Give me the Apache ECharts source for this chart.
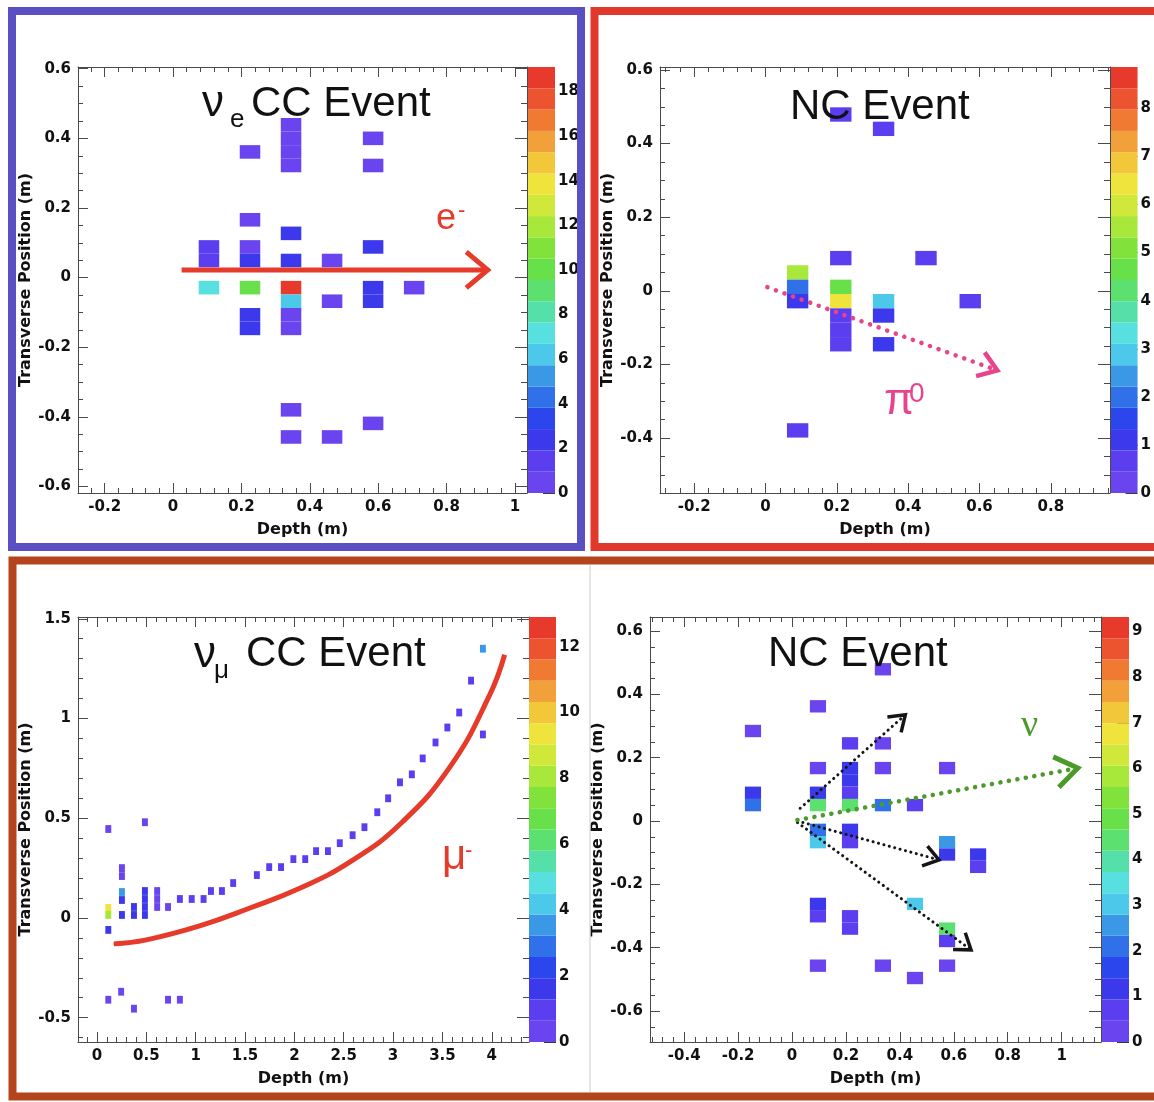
<!DOCTYPE html>
<html>
<head>
<meta charset="utf-8">
<title>Event displays</title>
<script src="https://cdn.jsdelivr.net/npm/echarts@6.0.0/dist/echarts.min.js"></script>
<style>
html,body{margin:0;padding:0;background:#ffffff;}
#chart{width:1154px;height:1102px;}
</style>
</head>
<body>
<div id="chart"></div>
<script>
// ---------- colour contours (20 levels, violet -> red) ----------
const PALETTE = ['#6a44ee','#5a3ef0','#3c38ec','#2c46ee','#3070e8','#3a98e6','#4cc8ea','#58e0e0',
                 '#54e0a8','#5ce070','#68e04a','#80e23a','#a8e83a','#d0e83a','#eee43c','#f2c83a',
                 '#f2a03a','#f07a32','#ec5430','#e83a2c'];

// ---------- panel 1 : nu_e CC event  [depth, transverse, hits] ----------
const P1_CELLS = [
  [0.105,0.049,1.6],[0.105,0.088,1.4],[0.105,-0.029,6.8],
  [0.225,0.361,0.6],[0.225,0.166,0.7],[0.225,0.088,0.9],[0.225,0.049,2.2],[0.225,-0.029,10.5],[0.225,-0.107,2.4],[0.225,-0.146,2.4],
  [0.345,0.322,0.5],[0.345,0.361,0.5],[0.345,0.400,0.5],[0.345,0.439,0.5],[0.345,0.127,2.5],[0.345,0.049,2.8],
  [0.345,-0.029,18.5],[0.345,-0.068,6.5],[0.345,-0.107,0.9],[0.345,-0.146,0.9],[0.345,-0.380,0.6],[0.345,-0.458,0.6],
  [0.465,0.049,0.8],[0.465,-0.068,0.7],[0.465,-0.458,0.6],
  [0.585,0.400,0.6],[0.585,0.322,0.6],[0.585,0.088,2.5],[0.585,-0.029,2.4],[0.585,-0.068,2.4],[0.585,-0.419,0.6],
  [0.705,-0.029,0.7]
];
const P1_X_TICKS = [-0.2, 0, 0.2, 0.4, 0.6, 0.8, 1];
const P1_Y_TICKS = [-0.6, -0.4, -0.2, 0, 0.2, 0.4, 0.6];
const P1_Z_TICKS = [0, 2, 4, 6, 8, 10, 12, 14, 16, 18];
const P1_Z_MAX = 19.1;
const P1_ARROWS = [[0.025, 0.022, 0.92, 0.022]];

// ---------- panel 2 : NC event (pi0) ----------
const P2_CELLS = [
  [0.211,0.479,0.5],[0.331,0.440,0.5],[0.211,0.089,0.6],[0.450,0.089,0.6],
  [0.090,0.050,5.6],[0.090,0.011,2.2],[0.090,-0.028,1.2],
  [0.211,0.011,4.7],[0.211,-0.028,6.4],[0.211,-0.067,0.6],[0.211,-0.106,0.5],[0.211,-0.145,0.5],
  [0.331,-0.028,2.9],[0.331,-0.067,1.2],[0.331,-0.145,1.1],
  [0.574,-0.028,0.6],[0.090,-0.379,0.6]
];
const P2_X_TICKS = [-0.2, 0, 0.2, 0.4, 0.6, 0.8];
const P2_Y_TICKS = [-0.4, -0.2, 0, 0.2, 0.4, 0.6];
const P2_Z_TICKS = [0, 1, 2, 3, 4, 5, 6, 7, 8];
const P2_Z_MAX = 8.86;
const P2_ARROWS = [[0.005, 0.01, 0.65, -0.216]];

// ---------- panel 3 : nu_mu CC event ----------
const P3_CELLS = [
  [0.115,0.446,0.5],[0.486,0.480,0.5],
  [0.115,0.050,9.4],[0.115,0.015,7.8],[0.115,-0.060,1.5],
  [0.253,0.250,0.6],[0.253,0.210,0.6],[0.253,0.130,3.8],[0.253,0.090,1.8],[0.253,0.015,1.6],
  [0.375,0.055,1.6],[0.375,0.015,1.6],
  [0.486,0.135,1.3],[0.486,0.095,1.6],[0.486,0.055,1.6],[0.486,0.015,1.3],
  [0.610,0.135,0.6],[0.610,0.095,0.6],[0.610,0.055,0.6],
  [0.720,0.055,0.6],[0.840,0.095,0.9],[0.960,0.095,0.9],[1.080,0.095,0.9],
  [1.155,0.135,0.9],[1.266,0.135,0.9],[1.380,0.175,0.9],
  [1.620,0.215,0.9],[1.745,0.255,0.9],[1.865,0.255,0.9],[1.990,0.295,0.9],[2.110,0.295,0.9],
  [2.220,0.335,0.9],[2.340,0.335,0.9],[2.460,0.375,0.9],[2.590,0.415,0.9],[2.710,0.455,0.9],
  [2.840,0.530,0.9],[2.950,0.600,0.9],[3.070,0.680,0.9],[3.190,0.720,0.9],[3.300,0.800,0.9],
  [3.430,0.880,0.9],[3.550,0.955,0.9],[3.670,1.030,0.9],[3.790,1.190,0.9],[3.910,1.350,3.5],[3.910,0.920,0.9],
  [0.115,-0.410,0.6],[0.245,-0.370,0.6],[0.375,-0.455,0.6],[0.720,-0.410,0.6],[0.840,-0.410,0.6]
];
const P3_X_TICKS = [0, 0.5, 1, 1.5, 2, 2.5, 3, 3.5, 4];
const P3_Y_TICKS = [-0.5, 0, 0.5, 1, 1.5];
const P3_Z_TICKS = [0, 2, 4, 6, 8, 10, 12];
const P3_Z_MAX = 12.9;
const P3_MUON_CURVE = [[0.17,-0.13],[0.5,-0.11],[1.04,-0.04],[1.55,0.05],[2.06,0.15],[2.56,0.28],
  [3.07,0.47],[3.58,0.76],[3.98,1.12],[4.13,1.32]];

// ---------- panel 4 : NC event ----------
const P4_CELLS = [
  [-0.145,0.284,0.4],[-0.145,0.089,1.3],[-0.145,0.050,2.2],
  [0.096,0.362,0.4],[0.096,0.167,0.4],[0.096,0.089,1.2],[0.096,0.050,4.4],[0.096,-0.028,2.3],[0.096,-0.067,3.0],
  [0.215,0.245,0.5],[0.215,0.167,1.2],[0.215,0.128,1.2],[0.215,0.089,0.8],[0.215,0.050,4.6],[0.215,-0.028,1.3],[0.215,-0.067,0.8],
  [0.337,0.479,0.4],[0.337,0.245,0.4],[0.337,0.167,0.4],[0.337,0.050,2.2],
  [0.456,0.050,0.5],[0.575,0.167,0.4],[0.575,-0.067,2.4],[0.575,-0.106,1.2],
  [0.690,-0.106,1.1],[0.690,-0.145,0.8],
  [0.456,-0.262,2.9],[0.096,-0.262,1.2],[0.096,-0.301,0.7],[0.215,-0.301,0.9],[0.215,-0.340,0.7],
  [0.575,-0.340,4.5],[0.575,-0.379,0.7],
  [0.096,-0.457,0.4],[0.337,-0.457,0.4],[0.456,-0.496,0.4],[0.575,-0.457,0.4]
];
const P4_X_TICKS = [-0.4, -0.2, 0, 0.2, 0.4, 0.6, 0.8, 1];
const P4_Y_TICKS = [-0.6, -0.4, -0.2, 0, 0.2, 0.4, 0.6];
const P4_Z_TICKS = [0, 1, 2, 3, 4, 5, 6, 7, 8, 9];
const P4_Z_MAX = 9.32;
const P4_ARROWS = [[0.03,0.04,0.42,0.335],[0.02,0.0,0.545,-0.123],[0.02,-0.005,0.664,-0.407],[0.02,0.003,1.06,0.167]];

// ---------- layout / style ----------
const CELL_W = 0.06, CELL_H = 0.039, CB_WIDTH = 27;
const LAYOUT = [
  {left:78,  top:67,  width:449, height:426, xMin:-0.278, xMax:1.035, yMin:-0.619, yMax:0.605, cbLeft:528,  xMinor:0.04, yMinor:0.05, xNameGap:29, yNameGap:36},
  {left:660, top:67,  width:450, height:426, xMin:-0.296, xMax:0.966, yMin:-0.549, yMax:0.608, cbLeft:1111, xMinor:0.04, yMinor:0.05, xNameGap:29, yNameGap:36},
  {left:78,  top:617, width:451, height:425, xMin:-0.192, xMax:4.377, yMin:-0.622, yMax:1.509, cbLeft:529,  xMinor:0.1,  yMinor:0.1,  xNameGap:29, yNameGap:36},
  {left:650, top:617, width:451, height:425, xMin:-0.527, xMax:1.146, yMin:-0.698, yMax:0.644, cbLeft:1102, xMinor:0.04, yMinor:0.05, xNameGap:29, yNameGap:34}
];
const ARROW_STYLE_P1 = [{color:'#e63a2a', width:5, dash:null, headLen:28, headAngle:40, headWidth:5}];
const ARROW_STYLE_P2 = [{color:'#e8448c', width:4.5, dash:[0.1,9], headLen:22, headAngle:35, headWidth:4.5}];
const ARROW_STYLE_P4 = [
  {color:'#151515', width:3, dash:[0.1,5.5], headLen:18, headAngle:35, headWidth:3.5},
  {color:'#151515', width:3, dash:[0.1,5.5], headLen:18, headAngle:35, headWidth:3.5},
  {color:'#151515', width:3, dash:[0.1,5.5], headLen:18, headAngle:35, headWidth:3.5},
  {color:'#4c9a2a', width:4.5, dash:[0.1,8.5], headLen:27, headAngle:35, headWidth:5}
];

const AXIS_COLOR = '#4a4a4a';
const LABEL_FONT = {fontFamily:'DejaVu Sans', fontWeight:'bold', fontSize:15, color:'#111'};
const NAME_FONT = {fontFamily:'DejaVu Sans', fontWeight:'bold', fontSize:16, color:'#111'};

function minorTicks(min, max, step) {
  const out = [];
  for (let k = Math.ceil(min / step - 1e-6); k * step <= max + 1e-9; k++) out.push(Math.round(k * step * 1e6) / 1e6);
  return out;
}

function tickAxis(gi, min, max, pos, values, len, showLine, withLabels, extra) {
  return Object.assign({
    type:'value', gridIndex:gi, min:min, max:max, position:pos, silent:true,
    splitLine:{show:false},
    axisLine:{show:showLine, onZero:false, lineStyle:{color:AXIS_COLOR, width:1}},
    axisTick:{show:true, inside:true, length:len, customValues:values, lineStyle:{color:AXIS_COLOR, width:1}},
    axisLabel: withLabels ? Object.assign({show:true, customValues:values, margin:7}, LABEL_FONT) : {show:false}
  }, extra || {});
}

function cellRender(params, api) {
  const x = api.value(0), y = api.value(1);
  const p = api.coord([x - CELL_W / 2, y + CELL_H / 2]);
  const s = api.size([CELL_W, CELL_H]);
  return {type:'rect', shape:{x:p[0], y:p[1], width:s[0], height:s[1]}, style:{fill:api.visual('color')}};
}

function bandRender(zMax) {
  return function (params, api) {
    const i = api.value(1);
    const p0 = api.coord([0, zMax * (i + 1) / PALETTE.length]);
    const p1 = api.coord([1, zMax * i / PALETTE.length]);
    return {type:'rect', shape:{x:p0[0], y:p0[1], width:p1[0] - p0[0], height:p1[1] - p0[1]}, style:{fill:PALETTE[i]}};
  };
}

function arrowRender(styles) {
  return function (params, api) {
    const s = styles[params.dataIndex];
    const p0 = api.coord([api.value(0), api.value(1)]);
    const p1 = api.coord([api.value(2), api.value(3)]);
    const ang = Math.atan2(p1[1] - p0[1], p1[0] - p0[0]);
    const a = s.headAngle * Math.PI / 180, L = s.headLen;
    const left = [p1[0] - L * Math.cos(ang - a), p1[1] - L * Math.sin(ang - a)];
    const right = [p1[0] - L * Math.cos(ang + a), p1[1] - L * Math.sin(ang + a)];
    const endX = p1[0] - 2 * Math.cos(ang), endY = p1[1] - 2 * Math.sin(ang);
    return {type:'group', children:[
      {type:'line', shape:{x1:p0[0], y1:p0[1], x2:endX, y2:endY},
       style:{stroke:s.color, lineWidth:s.width, lineDash:s.dash, lineCap:s.dash ? 'round' : 'butt', fill:null}},
      {type:'polyline', shape:{points:[left, p1, right]},
       style:{stroke:s.color, lineWidth:s.headWidth, fill:null, lineJoin:'miter', lineCap:'butt'}}
    ]};
  };
}

const option = {animation:false, backgroundColor:'#ffffff', grid:[], xAxis:[], yAxis:[], series:[], visualMap:[], graphic:{elements:[]}};

function addPanel(L, cells, xTicks, yTicks, zTicks, zMax) {
  const gi = option.grid.length;
  option.grid.push({left:L.left, top:L.top, width:L.width, height:L.height});
  const xi = option.xAxis.length, yi = option.yAxis.length;
  const xm = minorTicks(L.xMin, L.xMax, L.xMinor), ym = minorTicks(L.yMin, L.yMax, L.yMinor);
  option.xAxis.push(tickAxis(gi, L.xMin, L.xMax, 'bottom', xTicks, 10, true, true,
    {name:'Depth (m)', nameLocation:'middle', nameGap:L.xNameGap, nameTextStyle:NAME_FONT}));
  option.xAxis.push(tickAxis(gi, L.xMin, L.xMax, 'bottom', xm, 5, false, false));
  option.xAxis.push(tickAxis(gi, L.xMin, L.xMax, 'top', xTicks, 10, true, false));
  option.xAxis.push(tickAxis(gi, L.xMin, L.xMax, 'top', xm, 5, false, false));
  option.yAxis.push(tickAxis(gi, L.yMin, L.yMax, 'left', yTicks, 10, true, true,
    {name:'Transverse Position (m)', nameLocation:'middle', nameGap:L.yNameGap, nameTextStyle:NAME_FONT}));
  option.yAxis.push(tickAxis(gi, L.yMin, L.yMax, 'left', ym, 5, false, false));
  option.yAxis.push(tickAxis(gi, L.yMin, L.yMax, 'right', yTicks, 12, true, false));
  option.yAxis.push(tickAxis(gi, L.yMin, L.yMax, 'right', ym, 6, false, false));

  const si = option.series.length;
  option.series.push({type:'custom', coordinateSystem:'cartesian2d', xAxisIndex:xi, yAxisIndex:yi,
    data:cells, encode:{x:0, y:1}, renderItem:cellRender, silent:true, z:2});
  option.visualMap.push({type:'piecewise', show:false, seriesIndex:si, dimension:2,
    pieces:PALETTE.map((c, i) => ({gte:zMax * i / PALETTE.length, lt:zMax * (i + 1) / PALETTE.length + (i === PALETTE.length - 1 ? 1 : 0), color:c}))});

  const gc = option.grid.length;
  option.grid.push({left:L.cbLeft, top:L.top, width:CB_WIDTH, height:L.height});
  const cxi = option.xAxis.length, cyi = option.yAxis.length;
  option.xAxis.push({type:'value', gridIndex:gc, min:0, max:1, show:false});
  option.yAxis.push({type:'value', gridIndex:gc, min:0, max:zMax, position:'right', silent:true,
    splitLine:{show:false}, axisLine:{show:false, onZero:false},
    axisTick:{show:true, inside:true, length:12, customValues:zTicks, lineStyle:{color:'#3a3a3a', width:1}},
    axisLabel:Object.assign({show:true, customValues:zTicks, margin:3}, LABEL_FONT)});
  option.series.push({type:'custom', coordinateSystem:'cartesian2d', xAxisIndex:cxi, yAxisIndex:cyi,
    data:PALETTE.map((c, i) => [0, i]), encode:{x:0, y:1}, renderItem:bandRender(zMax), silent:true, z:2});
  return {xi:xi, yi:yi};
}

const a1 = addPanel(LAYOUT[0], P1_CELLS, P1_X_TICKS, P1_Y_TICKS, P1_Z_TICKS, P1_Z_MAX);
const a2 = addPanel(LAYOUT[1], P2_CELLS, P2_X_TICKS, P2_Y_TICKS, P2_Z_TICKS, P2_Z_MAX);
const a3 = addPanel(LAYOUT[2], P3_CELLS, P3_X_TICKS, P3_Y_TICKS, P3_Z_TICKS, P3_Z_MAX);
const a4 = addPanel(LAYOUT[3], P4_CELLS, P4_X_TICKS, P4_Y_TICKS, P4_Z_TICKS, P4_Z_MAX);

function addArrows(ax, data, styles) {
  option.series.push({type:'custom', coordinateSystem:'cartesian2d', xAxisIndex:ax.xi, yAxisIndex:ax.yi,
    data:data, encode:{x:[0, 2], y:[1, 3]}, renderItem:arrowRender(styles), silent:true, z:5});
}
addArrows(a1, P1_ARROWS, ARROW_STYLE_P1);
addArrows(a2, P2_ARROWS, ARROW_STYLE_P2);
addArrows(a4, P4_ARROWS, ARROW_STYLE_P4);

option.series.push({type:'line', xAxisIndex:a3.xi, yAxisIndex:a3.yi, data:P3_MUON_CURVE, smooth:0.45,
  showSymbol:false, symbol:'none', silent:true, z:5, lineStyle:{color:'#e63a2a', width:5}});

// ---------- frames and texts ----------
function txt(x, baseline, text, fs, color, family) {
  return {type:'text', x:x, y:baseline - 0.3 * fs, z:100,
    style:{text:text, fontSize:fs, fontFamily:family || 'Liberation Sans', fontWeight:'normal',
      fill:color || '#111', align:'left', verticalAlign:'middle'}};
}
const G = option.graphic.elements;
G.push({type:'rect', z:1, shape:{x:12, y:11, width:569, height:536}, style:{fill:null, stroke:'#5b4fc4', lineWidth:8}});
G.push({type:'rect', z:1, shape:{x:594.5, y:11, width:572, height:536}, style:{fill:null, stroke:'#e0392b', lineWidth:8}});
G.push({type:'rect', z:1, shape:{x:12.5, y:560.5, width:1156, height:536}, style:{fill:null, stroke:'#b4441c', lineWidth:8}});
G.push({type:'line', z:1, shape:{x1:590, y1:565, x2:590, y2:1092}, style:{stroke:'#dcdcdc', lineWidth:1.5}});

G.push(txt(202, 117, 'ν', 44));
G.push(txt(230, 128, 'e', 26));
G.push(txt(251, 117, 'CC Event', 42));
G.push(txt(790, 120, 'NC Event', 42));
G.push(txt(194, 668, 'ν', 44));
G.push(txt(214, 679, 'μ', 26));
G.push(txt(246, 667, 'CC Event', 42));
G.push(txt(768, 667, 'NC Event', 42));

G.push(txt(436, 230, 'e', 36, '#e63a2a'));
G.push(txt(458, 218, '-', 22, '#e63a2a'));
G.push(txt(884, 415, 'π', 44, '#e8448c'));
G.push(txt(909, 403, '0', 28, '#e8448c'));
G.push(txt(442, 870, 'μ', 42, '#e63a2a'));
G.push(txt(465, 858, '-', 22, '#e63a2a'));
G.push(txt(1021, 737, 'ν', 38, '#4c9a2a', 'Liberation Serif'));

const chart = echarts.init(document.getElementById('chart'), null, {renderer:'canvas', width:1154, height:1102});
chart.setOption(option);
</script>
</body>
</html>
